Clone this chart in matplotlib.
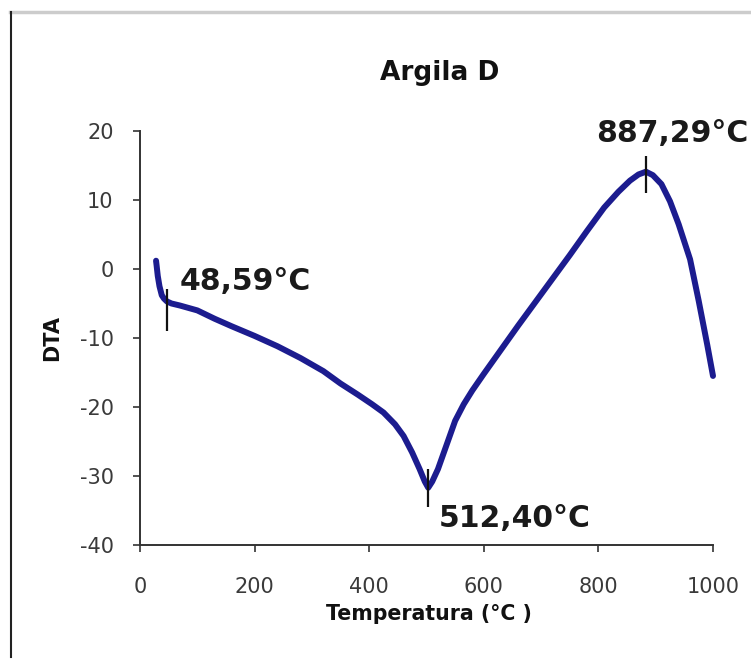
import matplotlib
matplotlib.use("Agg")
import matplotlib.pyplot as plt
from matplotlib.lines import Line2D

# ---- data ----
temperature = [28, 29, 31, 34, 38, 42, 47, 55, 70, 100, 130, 160, 200, 240, 280,
               320, 350, 380, 405, 425, 445, 460, 475, 488, 497, 503, 510, 520,
               535, 550, 565, 580, 600, 630, 660, 690, 720, 750, 780, 810, 835,
               855, 870, 883, 895, 910, 925, 940, 960, 975, 990, 1000]
dta = [1.2, 0.5, -1.0, -2.5, -3.8, -4.3, -4.7, -5.0, -5.3, -6.0, -7.2, -8.3, -9.7,
       -11.2, -12.9, -14.8, -16.6, -18.2, -19.6, -20.8, -22.5, -24.2, -26.6,
       -29.0, -30.8, -31.7, -30.8, -29.0, -25.5, -22.0, -19.6, -17.6, -15.2,
       -11.7, -8.2, -4.8, -1.4, 2.0, 5.5, 8.9, 11.2, 12.8, 13.7, 14.1, 13.6,
       12.3, 9.8, 6.5, 1.4, -4.6, -11.0, -15.5]

peak_x = [47, 503, 883]
peak_lo = [-9.0, -34.5, 11.0]
peak_hi = [-2.9, -29.0, 16.4]
peak_labels = ["48,59°C", "512,40°C", "887,29°C"]
label_x = [69, 522, 796]
label_y = [-3.0, -37.4, 18.4]

x_ticks = [0, 200, 400, 600, 800, 1000]
y_ticks = [-40, -30, -20, -10, 0, 10, 20]

title = "Argila D"
xlabel = "Temperatura (°C )"
ylabel = "DTA"

# ---- figure ----
fig = plt.figure(figsize=(7.51, 6.61), dpi=100)
ax = fig.add_axes([140 / 751, 1 - 545 / 661, (713 - 140) / 751, (545 - 131) / 661])

ax.plot(temperature, dta, color="#1c1c8f", lw=4.3, solid_capstyle="round",
        solid_joinstyle="round", zorder=3, clip_on=False)
ax.vlines(peak_x, peak_lo, peak_hi, color="#111111", lw=1.6, zorder=4)
for tx, ty, s in zip(label_x, label_y, peak_labels):
    ax.text(tx, ty, s, fontsize=21.5, fontweight="bold", family="DejaVu Sans",
            color="#1a1a1a", ha="left", va="baseline")

ax.set_xlim(0, 1000)
ax.set_ylim(-40, 20)
ax.set_xticks(x_ticks)
ax.set_yticks(y_ticks)
ax.set_xticklabels([str(t) for t in x_ticks])
ax.set_yticklabels([str(t) for t in y_ticks])

for side in ("top", "right"):
    ax.spines[side].set_visible(False)
for side in ("left", "bottom"):
    ax.spines[side].set_color("#333333")
    ax.spines[side].set_linewidth(1.4)

ax.tick_params(axis="y", direction="out", length=5, width=1.2, color="#333333",
               pad=14, labelsize=15, labelcolor="#3a3a3a")
ax.tick_params(axis="x", direction="out", length=5, width=1.2, color="#333333",
               pad=18, labelsize=15, labelcolor="#3a3a3a")
for lab in ax.get_xticklabels() + ax.get_yticklabels():
    lab.set_family("DejaVu Sans")

fig.text(440 / 751, 1 - 80 / 661, title, fontsize=19, fontweight="bold",
         ha="center", va="baseline", color="#111111")
fig.text(429 / 751, 1 - 614 / 661, xlabel, fontsize=14.8, fontweight="bold",
         ha="center", va="center", color="#111111")
fig.text(52 / 751, 1 - 338 / 661, ylabel, fontsize=15, fontweight="bold",
         ha="center", va="center", rotation=90, color="#111111")

# outer chart frame (top light gray, left dark)
fig.add_artist(Line2D([10 / 751, 1.0], [1 - 12 / 661, 1 - 12 / 661],
                      transform=fig.transFigure, color="#cccccc", lw=2.5))
fig.add_artist(Line2D([11 / 751, 11 / 751], [1 - 12 / 661, 1 - 657 / 661],
                      transform=fig.transFigure, color="#222222", lw=1.5))

fig.savefig("out.png", dpi=100)
